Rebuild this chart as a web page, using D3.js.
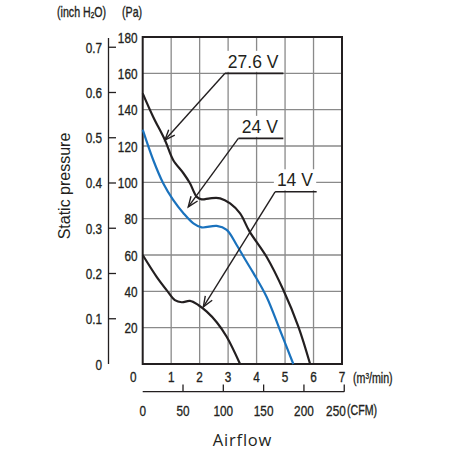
<!DOCTYPE html>
<html>
<head>
  <meta charset="utf-8">
  <script src="https://cdn.jsdelivr.net/npm/d3@7"></script>
  <style>
    body { margin: 0; background: #fff; }
    .narrow { font-family: "Liberation Sans", Arial, sans-serif; fill: #231f20; stroke: #231f20; stroke-width: 0.35; }
  </style>
</head>
<body>
<svg id="chart" width="451" height="450"></svg>
<script>
// fan curves, airflow in m3/min, static pressure in Pa
const v276Flow = [0, 0.37, 0.78, 1.07, 1.43, 1.66, 1.9, 2.07, 2.36, 2.72, 3.07, 3.42, 3.75, 4.35, 4.94, 5.47, 5.88];
const v276Pa   = [149, 136, 123.3, 112.3, 105, 99.5, 92, 90.6, 91.2, 91.2, 88.4, 82.9, 73, 59, 40.7, 20.5, 0];
const v24Flow  = [0, 0.37, 0.72, 1.07, 1.43, 1.78, 2.07, 2.6, 2.95, 3.3, 3.6, 3.89, 4.35, 4.82, 5.29];
const v24Pa    = [129, 112.3, 99.5, 90.3, 83, 77.4, 75.2, 76, 73.8, 65.5, 57.5, 50, 37, 18.7, 0];
const v14Flow  = [0, 0.49, 0.84, 1.13, 1.37, 1.66, 1.95, 2.25, 2.6, 2.95, 3.42];
const v14Pa    = [60, 48, 40.7, 35.2, 34, 34.7, 32.5, 28.8, 23, 15, 0];

const seriesNames = ["27.6 V", "24 V", "14 V"];
// label underline (from, to flow at Pa) and arrow tip (flow, Pa)
const labelFlow = [[2.89, 4.94], [3.36, 4.94], [4.65, 6.11]];
const labelPa   = [160, 124.2, 94.8];
const tipFlow   = [0.78, 1.6, 2.13];
const tipPa     = [123.3, 86.5, 31.5];

const paTicks   = [20, 40, 60, 80, 100, 120, 140, 160, 180];
const inchTicks = [0, 0.1, 0.2, 0.3, 0.4, 0.5, 0.6, 0.7];
const flowTicks = [0, 1, 2, 3, 4, 5, 6, 7];
const cfmTicks  = [0, 50, 100, 150, 200, 250];

const svg = d3.select('#chart');

const x = d3.scaleLinear().domain([0, 7]).range([142.7, 342]);
const y = d3.scaleLinear().domain([0, 180]).range([364, 37]);
const yInch = d3.scaleLinear().domain([0, 1]).range([364, 364 - 249.09 * (327 / 180)]);
const xCfm = d3.scaleLinear().domain([0, 35.3147]).range([142.7, 142.7 + 28.47]);

const SX = 0.76; // condensed look for tick labels

function narrow(parent, tx, ty, size, anchor) {
  return parent.append('text')
    .attr('class', 'narrow')
    .attr('transform', 'translate(' + tx + ',' + ty + ') scale(' + SX + ',1)')
    .attr('text-anchor', anchor || 'start')
    .attr('font-size', size);
}

// grid
svg.append('g').selectAll('line').data(d3.range(1, 7)).enter().append('line')
  .attr('x1', d => x(d)).attr('x2', d => x(d)).attr('y1', y(180)).attr('y2', y(0))
  .attr('stroke', '#8a8a8a').attr('stroke-width', 1.3);
svg.append('g').selectAll('line').data(paTicks.slice(0, -1)).enter().append('line')
  .attr('x1', x(0)).attr('x2', x(7)).attr('y1', d => y(d)).attr('y2', d => y(d))
  .attr('stroke', '#8a8a8a').attr('stroke-width', 1.3);

// frame
svg.append('rect')
  .attr('x', x(0)).attr('y', y(180)).attr('width', x(7) - x(0)).attr('height', y(0) - y(180))
  .attr('fill', 'none').attr('stroke', '#231f20').attr('stroke-width', 2);

// curves
const line = d3.line().x(d => x(d[0])).y(d => y(d[1])).curve(d3.curveCatmullRom.alpha(0.5));
const curves = [
  { flow: v276Flow, pa: v276Pa, color: '#231f20' },
  { flow: v24Flow, pa: v24Pa, color: '#1a72bd' },
  { flow: v14Flow, pa: v14Pa, color: '#231f20' }
];
svg.append('g').selectAll('path').data(curves).enter().append('path')
  .attr('d', c => line(c.flow.map((f, i) => [f, c.pa[i]])))
  .attr('fill', 'none').attr('stroke', c => c.color).attr('stroke-width', 2.2);

// annotations
seriesNames.forEach((name, i) => {
  const g = svg.append('g');
  const x0 = x(labelFlow[i][0]), x1 = x(labelFlow[i][1]), yy = y(labelPa[i]);
  const tx = x(tipFlow[i]), ty = y(tipPa[i]);
  const t = g.append('text')
    .attr('x', (x0 + x1) / 2 - 1).attr('y', yy - 5.5)
    .attr('text-anchor', 'middle')
    .attr('font-family', 'Liberation Sans, Arial, sans-serif')
    .attr('font-size', 17.5).attr('fill', '#231f20')
    .text(name);
  const bb = t.node().getBBox();
  g.insert('rect', 'text')
    .attr('x', bb.x - 3).attr('y', bb.y - 1).attr('width', bb.width + 6).attr('height', bb.height + 1)
    .attr('fill', '#fff');
  g.append('line').attr('x1', x0).attr('x2', x1).attr('y1', yy).attr('y2', yy)
    .attr('stroke', '#231f20').attr('stroke-width', 1.6);
  g.append('line').attr('x1', x0).attr('y1', yy).attr('x2', tx).attr('y2', ty)
    .attr('stroke', '#231f20').attr('stroke-width', 1.4);
  const ang = Math.atan2(yy - ty, x0 - tx);
  const L = 11, spread = 0.38;
  g.append('path')
    .attr('d', 'M' + (tx + L * Math.cos(ang + spread)) + ',' + (ty + L * Math.sin(ang + spread)) +
      'L' + tx + ',' + ty +
      'L' + (tx + L * Math.cos(ang - spread)) + ',' + (ty + L * Math.sin(ang - spread)))
    .attr('fill', 'none').attr('stroke', '#231f20').attr('stroke-width', 1.4);
});

// Pa labels
const pg = svg.append('g');
paTicks.forEach(d => narrow(pg, 137.5, y(d) + 5.5, 15.5, 'end').text(d));

// inch H2O axis
const ia = svg.append('g');
ia.append('line').attr('x1', 108.5).attr('x2', 108.5).attr('y1', 38).attr('y2', yInch(0))
  .attr('stroke', '#231f20').attr('stroke-width', 1.3);
ia.selectAll('line').data(inchTicks).enter().append('line')
  .attr('x1', 108.5).attr('x2', 116).attr('y1', d => yInch(d)).attr('y2', d => yInch(d))
  .attr('stroke', '#231f20').attr('stroke-width', 1.3);
inchTicks.forEach(d => narrow(ia, 102, yInch(d) + 5.5, 15.5, 'end').text(d === 0 ? '0' : d.toFixed(1)));

const unitT = narrow(svg, 57, 17, 14);
unitT.append('tspan').text('(inch H');
unitT.append('tspan').attr('font-size', 8.5).attr('dy', 1).text('2');
unitT.append('tspan').attr('dy', -1).text('O)');
narrow(svg, 122, 17, 14).text('(Pa)');

// m3/min labels
const fg = svg.append('g');
flowTicks.forEach(d => narrow(fg, d === 0 ? x(d) - 9.5 : x(d), 381.5, 15.5, 'middle').text(d));
const m3 = narrow(svg, 353, 383, 14);
m3.append('tspan').text('(m');
m3.append('tspan').attr('font-size', 8.5).attr('dy', -4.5).text('3');
m3.append('tspan').attr('dy', 4.5).text('/min)');

// CFM axis
const ca = svg.append('g');
ca.append('line').attr('x1', xCfm(0)).attr('x2', xCfm(250)).attr('y1', 391.7).attr('y2', 391.7)
  .attr('stroke', '#231f20').attr('stroke-width', 1.3);
ca.selectAll('line').data(cfmTicks).enter().append('line')
  .attr('x1', d => xCfm(d)).attr('x2', d => xCfm(d)).attr('y1', 391.7).attr('y2', 384.5)
  .attr('stroke', '#231f20').attr('stroke-width', 1.3);
cfmTicks.forEach((d, i) => {
  const last = i === cfmTicks.length - 1;
  narrow(ca, last ? xCfm(d) + 1.5 : xCfm(d), 415.5, 15.5, last ? 'end' : 'middle').text(d);
});
narrow(svg, 347, 414.5, 14).text('(CFM)');

// axis titles
svg.append('text')
  .attr('transform', 'translate(70,186) rotate(-90)')
  .attr('text-anchor', 'middle')
  .attr('font-family', 'Liberation Sans, Arial, sans-serif')
  .attr('font-size', 16).attr('fill', '#231f20')
  .text('Static pressure');
svg.append('text')
  .attr('x', 242.5).attr('y', 446)
  .attr('text-anchor', 'middle')
  .attr('font-family', '"Open Sans", sans-serif')
  .attr('font-size', 16.5).attr('letter-spacing', 0.8).attr('fill', '#231f20')
  .text('Airflow');
</script>
</body>
</html>
